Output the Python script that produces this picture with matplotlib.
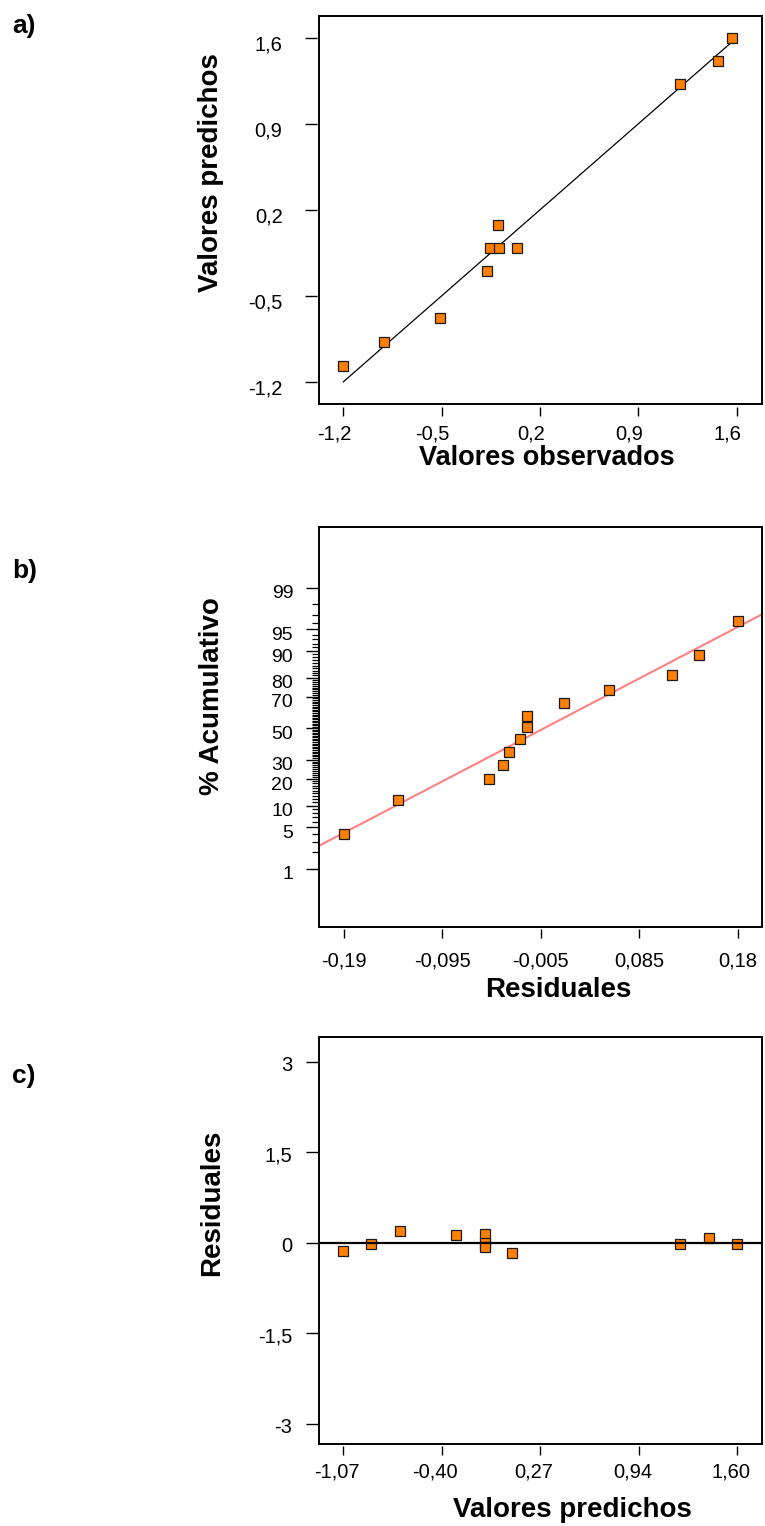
import numpy as np
import matplotlib
matplotlib.use("Agg")
import matplotlib.pyplot as plt
from matplotlib.patches import Rectangle
from matplotlib.transforms import ScaledTranslation
from statistics import NormalDist

plt.rcParams['font.family'] = ['Liberation Sans', 'DejaVu Sans']
plt.rcParams['axes.unicode_minus'] = False

# ---------------- data ----------------
# a) observed vs predicted
obs_a = [-1.20, -0.908, -0.51, -0.18, -0.159, -0.09, -0.10, 0.033, 1.194, 1.469, 1.567]
pred_a = [-1.07, -0.875, -0.684, -0.297, -0.11, -0.11, 0.077, -0.11, 1.226, 1.413, 1.60]
diag_x = [-1.2, 1.6]
diag_y = [-1.2, 1.6]
ticks_a = [-1.2, -0.5, 0.2, 0.9, 1.6]
ticklabels_a = ["-1,2", "-0,5", "0,2", "0,9", "1,6"]

# b) normal probability plot of residuals
resid_b = [-0.190, -0.139, -0.0532, -0.0403, -0.0344, -0.0240, -0.0175, -0.0175,
           0.0166, 0.0595, 0.118, 0.144, 0.180]
pct_b = [4.0, 11.7, 19.9, 27.3, 34.9, 43.0, 50.7, 58.3, 66.3, 73.9, 81.2, 88.8, 96.3]
fit_x = [-0.2128, 0.2029]
fit_pct = [2.58, 97.06]
xticks_b = [-0.19, -0.0975, -0.005, 0.0875, 0.18]
xticklabels_b = ["-0,19", "-0,095", "-0,005", "0,085", "0,18"]
yticks_b = [1, 5, 10, 20, 30, 50, 70, 80, 90, 95, 99]
yticklabels_b = ["1", "5", "10", "20", "30", "50", "70", "80", "90", "95", "99"]
yminor_b = [p for p in range(1, 100) if p not in yticks_b]

# c) residuals vs predicted
pred_c = [-1.07, -0.882, -0.686, -0.304, -0.112, -0.112, -0.112, 0.075, 1.211, 1.41, 1.60]
resid_c = [-0.128, -0.02, 0.188, 0.122, 0.15, 0.0, -0.073, -0.173, -0.012, 0.077, -0.023]
xticks_c = [-1.07, -0.4025, 0.265, 0.9325, 1.60]
xticklabels_c = ["-1,07", "-0,40", "0,27", "0,94", "1,60"]
yticks_c = [-3, -1.5, 0, 1.5, 3]
yticklabels_c = ["-3", "-1,5", "0", "1,5", "3"]

# ---------------- figure ----------------
W, H = 765, 1526
fig = plt.figure(figsize=(W / 100, H / 100), dpi=100)

ORANGE = '#FF8000'
EDGE = '#1a1a1a'
TICK_FS = 14.5
LABEL_FS = 20


def add_ax(left, top, right, bottom):
    return fig.add_axes([left / W, 1 - bottom / H, (right - left) / W, (bottom - top) / H])


def frame(ax):
    for s in ax.spines.values():
        s.set_visible(False)
    ax.spines['left'].set_position(('outward', 1.1))
    ax.spines['bottom'].set_position(('outward', 1.8))
    ax.add_patch(Rectangle((0, 0), 1, 1, transform=ax.transAxes, fill=False,
                           lw=1.4, edgecolor='black', clip_on=False, zorder=10))


def shift_labels(ax, dx_px=0.0, dy_px=0.0, axis='x'):
    labels = ax.get_xticklabels() if axis == 'x' else ax.get_yticklabels()
    off = ScaledTranslation(dx_px / 100, dy_px / 100, fig.dpi_scale_trans)
    for lab in labels:
        lab.set_transform(lab.get_transform() + off)


def panel_label(text, y_px):
    fig.text(12 / W, 1 - y_px / H, text, fontsize=19, fontweight='bold',
             ha='left', va='center')


# ---------- a ----------
axa = add_ax(319, 16, 762, 404)
frame(axa)
axa.plot(diag_x, diag_y, color='black', lw=0.9, zorder=2)
axa.plot(obs_a, pred_a, 's', ms=7.2, mfc=ORANGE, mec=EDGE, mew=0.9, zorder=3, clip_on=False)
axa.set_xlim(-1.373, 1.78)
axa.set_ylim(-1.38, 1.777)
axa.set_xticks(ticks_a, ticklabels_a)
axa.set_yticks(ticks_a, ticklabels_a)
axa.tick_params(axis='x', length=6.5, width=1.0, pad=6.6, labelsize=TICK_FS)
axa.tick_params(axis='y', length=8.6, width=1.0, pad=16.5, labelsize=TICK_FS)
axa.set_xlabel('Valores observados', fontsize=19.5, fontweight='bold', va='baseline')
axa.xaxis.set_label_coords(0.5135, -0.1565)
axa.set_ylabel('Valores predichos', fontsize=LABEL_FS, fontweight='bold', va='center')
axa.yaxis.set_label_coords(-0.2438, 0.5954)
shift_labels(axa, dx_px=-9, axis='x')
shift_labels(axa, dy_px=-5, axis='y')
panel_label('a)', 25.5)

# ---------- b ----------
nd = NormalDist()
_ppf = np.vectorize(lambda v: nd.inv_cdf(v / 100.0), otypes=[float])
_cdf = np.vectorize(lambda v: nd.cdf(v) * 100.0, otypes=[float])


def fwd(p):
    p = np.clip(np.asarray(p, dtype=float), 1e-7, 100 - 1e-7)
    return _ppf(p)


def inv(z):
    return _cdf(np.asarray(z, dtype=float))


axb = add_ax(319.3, 527.3, 762, 926.7)
frame(axb)
axb.set_yscale('function', functions=(fwd, inv))
axb.plot(fit_x, fit_pct, color='#FF8080', lw=1.5, zorder=2)
axb.plot(resid_b, pct_b, 's', ms=7.2, mfc=ORANGE, mec=EDGE, mew=0.9, zorder=3, clip_on=False)
axb.set_xlim(-0.2128, 0.2029)
axb.set_ylim(0.0501, 99.957)
axb.set_xticks(xticks_b, xticklabels_b)
axb.set_yticks(yticks_b, yticklabels_b)
axb.set_yticks(yminor_b, minor=True)
axb.tick_params(axis='x', length=6.5, width=1.0, pad=9.5, labelsize=TICK_FS)
axb.tick_params(axis='y', which='major', length=8.6, width=1.0, pad=9.1, labelsize=14)
axb.tick_params(axis='y', which='minor', length=4.3, width=0.9)
axb.tick_params(axis='x', which='minor', bottom=False)
axb.set_xlabel('Residuales', fontsize=LABEL_FS, fontweight='bold', va='baseline')
axb.xaxis.set_label_coords(0.5392, -0.1753)
axb.set_ylabel('% Acumulativo', fontsize=LABEL_FS, fontweight='bold', va='center')
axb.yaxis.set_label_coords(-0.2424, 0.5776)
shift_labels(axb, dy_px=-4, axis='y')
panel_label('b)', 571)

# ---------- c ----------
axc = add_ax(319.3, 1037.3, 762, 1443.5)
frame(axc)
axc.axhline(0, color='black', lw=1.6, zorder=4)
axc.plot(pred_c, resid_c, 's', ms=6.9, mfc=ORANGE, mec=EDGE, mew=0.9, zorder=3, clip_on=False)
axc.set_xlim(-1.233, 1.767)
axc.set_ylim(-3.33, 3.41)
axc.set_xticks(xticks_c, xticklabels_c)
axc.set_yticks(yticks_c, yticklabels_c)
axc.tick_params(axis='x', length=6.5, width=1.0, pad=5.3, labelsize=TICK_FS)
axc.tick_params(axis='y', length=8.6, width=1.0, pad=9.6, labelsize=TICK_FS)
axc.set_xlabel('Valores predichos', fontsize=LABEL_FS, fontweight='bold', va='baseline')
axc.xaxis.set_label_coords(0.5708, -0.1817)
axc.set_ylabel('Residuales', fontsize=LABEL_FS, fontweight='bold', va='center')
axc.yaxis.set_label_coords(-0.2424, 0.592)
shift_labels(axc, dx_px=-6.5, axis='x')
shift_labels(axc, dy_px=-1.5, axis='y')
panel_label('c)', 1076)

fig.savefig('out.png', dpi=100)
